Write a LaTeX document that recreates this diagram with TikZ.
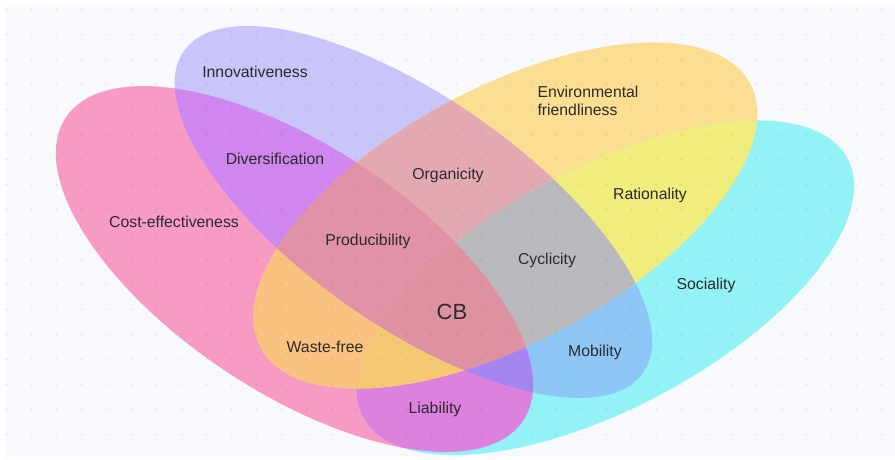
\documentclass[tikz,border=0pt]{standalone}
\usepackage{fontspec}
\setmainfont{Liberation Sans}
\definecolor{bgc}{HTML}{F7F9FC}
\definecolor{txt}{HTML}{2B2B2B}
\definecolor{cA}{HTML}{F79AC4}
\definecolor{cB}{HTML}{C7C5FA}
\definecolor{cC}{HTML}{FBDE92}
\definecolor{cD}{HTML}{93F2F5}
\definecolor{cAB}{HTML}{CF86EE}
\definecolor{cAC}{HTML}{F9C280}
\definecolor{cAD}{HTML}{DE80DD}
\definecolor{cBC}{HTML}{E3A9B3}
\definecolor{cBD}{HTML}{8FC6F8}
\definecolor{cCD}{HTML}{F0EC7D}
\definecolor{cABC}{HTML}{E192A6}
\definecolor{cABD}{HTML}{A685F0}
\definecolor{cACD}{HTML}{F5C873}
\definecolor{cBCD}{HTML}{BABABE}
\definecolor{cABCD}{HTML}{DE91A0}
\def\PA{(294.5,269) circle [x radius=274.3pt, y radius=123.1pt, rotate=-33.5]}
\def\PB{(413.4,212) circle [x radius=280.3pt, y radius=114pt, rotate=-35]}
\def\PC{(505.4,215.5) circle [x radius=278pt, y radius=126.9pt, rotate=28.4]}
\def\PD{(605.25,287.75) circle [x radius=274.6pt, y radius=120.3pt, rotate=28.1]}
\begin{document}
\begin{tikzpicture}[x=1pt,y=-1pt,
  lbl/.style={font=\fontsize{15.8}{18.5}\selectfont, text=txt, inner sep=0pt},
  dotmark/.style={fill=black, opacity=0.08}]
\useasboundingbox (0,0) rectangle (895,459);
\fill[white] (0,0) rectangle (895,459);
\fill[bgc] (6,7) rectangle (895,459);
% single sets
\fill[cA] \PA;
\fill[cB] \PB;
\fill[cC] \PC;
\fill[cD] \PD;
% pairs
\begin{scope}\clip \PA; \fill[cAB] \PB; \end{scope}
\begin{scope}\clip \PA; \fill[cAC] \PC; \end{scope}
\begin{scope}\clip \PA; \fill[cAD] \PD; \end{scope}
\begin{scope}\clip \PB; \fill[cBC] \PC; \end{scope}
\begin{scope}\clip \PB; \fill[cBD] \PD; \end{scope}
\begin{scope}\clip \PC; \fill[cCD] \PD; \end{scope}
% triples
\begin{scope}\clip \PA; \clip \PB; \fill[cABC] \PC; \end{scope}
\begin{scope}\clip \PA; \clip \PB; \fill[cABD] \PD; \end{scope}
\begin{scope}\clip \PA; \clip \PC; \fill[cACD] \PD; \end{scope}
\begin{scope}\clip \PB; \clip \PC; \fill[cBCD] \PD; \end{scope}
% all four
\begin{scope}\clip \PA; \clip \PB; \clip \PC; \fill[cABCD] \PD; \end{scope}
% dot grid
\foreach \i in {0,...,35} {
  \foreach \j in {0,...,17} {
    \fill[dotmark] (6.5+25*\i, 9.5+25*\j) circle (1.2pt);
  }
}
% labels
\node[lbl] (innov) at (255,72) {Innovativeness};
\node[lbl, align=left] (env) at (588,101) {Environmental\\friendliness};
\node[lbl] (div) at (275,159) {Diversification};
\node[lbl] (org) at (448,175) {Organicity};
\node[lbl] (rat) at (650,195) {Rationality};
\node[lbl] (cost) at (174,222) {Cost-effectiveness};
\node[lbl] (prod) at (368,241) {Producibility};
\node[lbl] (cyc) at (547,260) {Cyclicity};
\node[lbl] (soc) at (706,285) {Sociality};
\node[lbl, font=\fontsize{22}{26}\selectfont] (cb) at (452,312) {CB};
\node[lbl] (waste) at (325,347) {Waste-free};
\node[lbl] (mob) at (595,352) {Mobility};
\node[lbl] (liab) at (435,409) {Liability};
\end{tikzpicture}
\end{document}
